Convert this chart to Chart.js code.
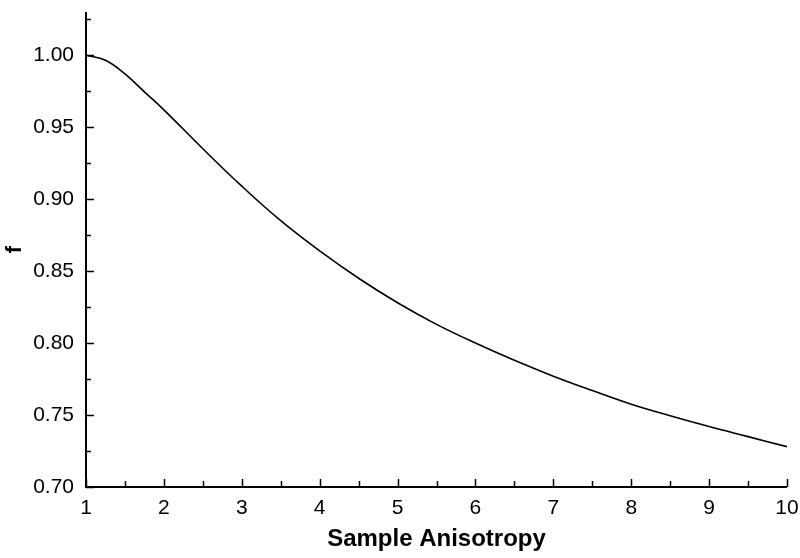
<!DOCTYPE html>
<html>
<head>
<meta charset="utf-8">
<script src="https://cdn.jsdelivr.net/npm/chart.js@4"></script>
<style>
html,body{margin:0;padding:0;background:#fff;}
#wrap{width:800px;height:558px;position:relative;}
</style>
</head>
<body>
<div id="wrap"><canvas id="c" width="800" height="558"></canvas></div>
<script>
// Data
const anisotropy = [1, 1.25, 1.5, 1.75, 2, 2.5, 3, 3.5, 4, 4.5, 5, 5.5, 6, 6.5, 7, 7.5, 8, 8.5, 9, 9.5, 10];
const fValues   = [1.000, 0.9965, 0.987, 0.9745, 0.962, 0.935, 0.909, 0.885, 0.864, 0.845, 0.828, 0.813, 0.800, 0.788, 0.777, 0.767, 0.7575, 0.7495, 0.742, 0.735, 0.728];
const xTicks = [1, 2, 3, 4, 5, 6, 7, 8, 9, 10];
const yTicks = [0.70, 0.75, 0.80, 0.85, 0.90, 0.95, 1.00];
const xTitle = 'Sample Anisotropy';
const yTitle = 'f';

const points = anisotropy.map((x, i) => ({x: x, y: fValues[i]}));

// Inward tick marks and axis lines drawn through the chart's scales
const inwardTicks = {
  id: 'inwardTicks',
  afterDraw(chart) {
    const ctx = chart.ctx;
    const xs = chart.scales.x, ys = chart.scales.y;
    const area = chart.chartArea;
    ctx.save();
    ctx.strokeStyle = '#000';
    ctx.lineWidth = 1.5;
    ctx.beginPath();
    for (let v = xs.min; v <= xs.max + 1e-9; v += 0.5) {
      const px = Math.round(xs.getPixelForValue(v)) + 0.5;
      const len = Math.abs(v - Math.round(v)) < 1e-9 ? 8 : 6;
      ctx.moveTo(px, area.bottom);
      ctx.lineTo(px, area.bottom - len);
    }
    for (let v = 0.70; v <= ys.max + 1e-9; v += 0.025) {
      const py = Math.round(ys.getPixelForValue(v)) + 0.5;
      const major = Math.abs(v / 0.05 - Math.round(v / 0.05)) < 1e-6;
      ctx.moveTo(area.left, py);
      ctx.lineTo(area.left + (major ? 8 : 5), py);
    }
    ctx.stroke();
    ctx.lineWidth = 2;
    ctx.beginPath();
    ctx.moveTo(area.left, area.top);
    ctx.lineTo(area.left, area.bottom);
    ctx.lineTo(area.right, area.bottom);
    ctx.stroke();
    ctx.restore();
  }
};

new Chart(document.getElementById('c'), {
  type: 'line',
  data: {
    datasets: [{
      data: points,
      borderColor: '#000',
      borderWidth: 1.6,
      pointRadius: 0,
      fill: false,
      tension: 0.4
    }]
  },
  options: {
    responsive: false,
    animation: false,
    events: [],
    layout: {padding: {top: 12, right: 13, left: 0, bottom: 0}},
    plugins: {legend: {display: false}, tooltip: {enabled: false}},
    scales: {
      x: {
        type: 'linear',
        min: 1, max: 10,
        afterBuildTicks: s => { s.ticks = xTicks.map(v => ({value: v})); },
        afterFit: s => { s.height = 71; s.paddingLeft = 0; s.paddingRight = 0; },
        grid: {display: false, drawTicks: false},
        border: {display: false},
        ticks: {
          color: '#000',
          font: {family: 'Liberation Sans, Arial, sans-serif', size: 21},
          padding: 9,
          maxRotation: 0,
          callback: v => String(v)
        },
        title: {
          display: true,
          text: xTitle,
          color: '#000',
          font: {family: 'Liberation Sans, Arial, sans-serif', size: 24, weight: 'bold'},
          padding: {top: 10, bottom: 4}
        }
      },
      y: {
        type: 'linear',
        min: 0.70, max: 1.03,
        afterBuildTicks: s => { s.ticks = yTicks.map(v => ({value: v})); },
        afterFit: s => { s.width = 86; s.paddingTop = 0; s.paddingBottom = 0; },
        grid: {display: false, drawTicks: false},
        border: {display: false},
        ticks: {
          color: '#000',
          font: {family: 'Liberation Sans, Arial, sans-serif', size: 21},
          padding: 12,
          callback: v => Number(v).toFixed(2)
        },
        title: {
          display: true,
          text: yTitle,
          color: '#000',
          font: {family: 'Liberation Sans, Arial, sans-serif', size: 22, weight: 'bold'},
          padding: {top: 2, bottom: 2}
        }
      }
    }
  },
  plugins: [inwardTicks]
});
</script>
</body>
</html>
